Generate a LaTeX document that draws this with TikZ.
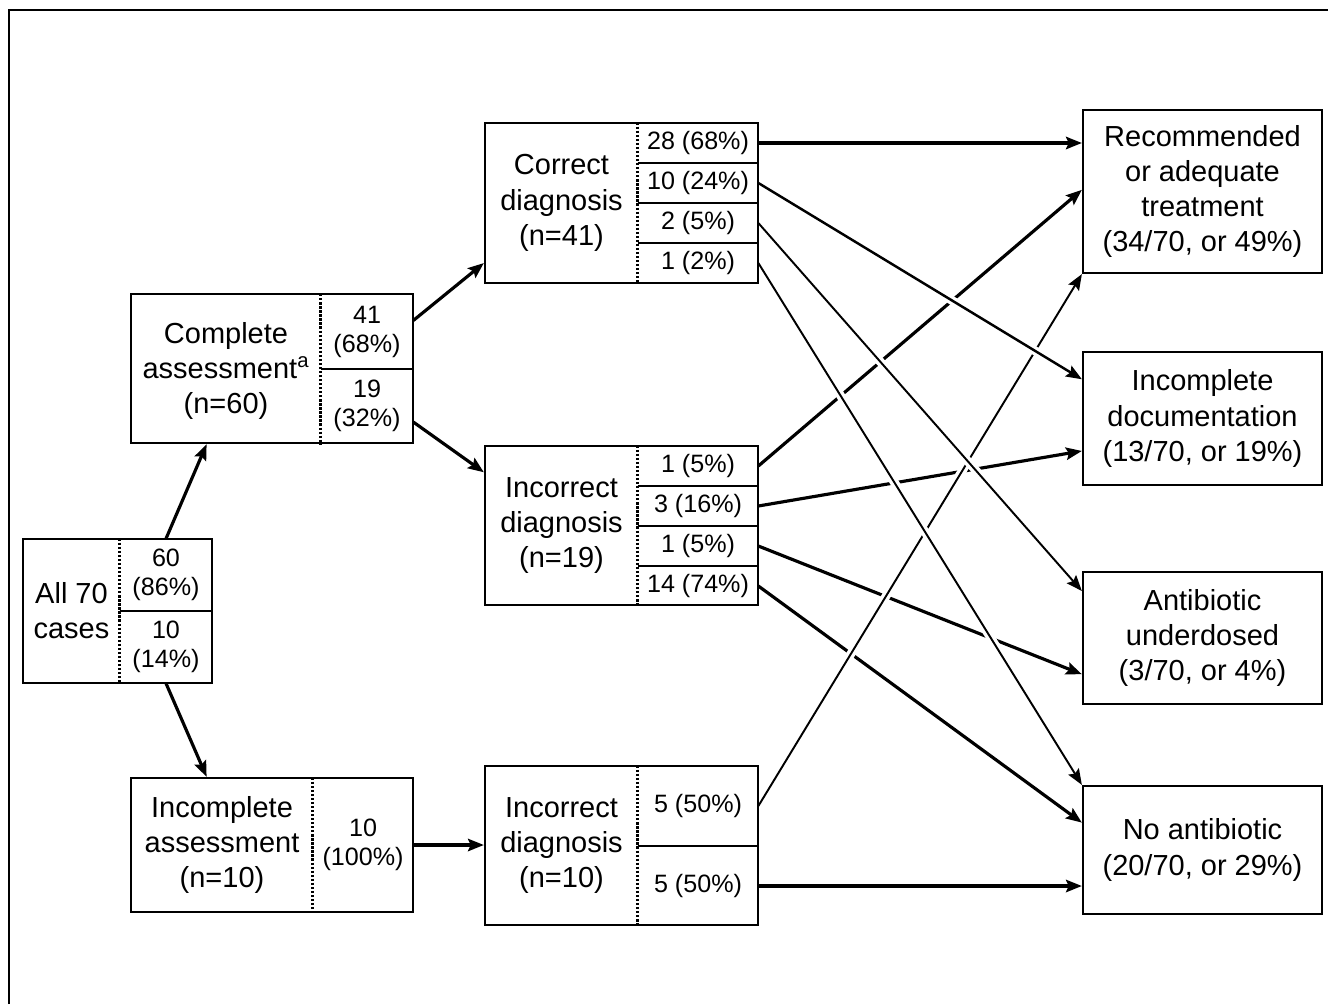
\documentclass[tikz,border=0pt]{standalone}
\usepackage{fontspec}
\setmainfont{Liberation Sans}
\usetikzlibrary{arrows.meta,calc}

\begin{document}
\begin{tikzpicture}[x=0.02cm,y=-0.02cm,
  box/.style={draw,line width=1.3pt,inner sep=0pt},
  txt/.style={align=center,inner sep=0pt,font=\fontsize{16.5}{20}\selectfont},
  cell/.style={align=center,inner sep=0pt,font=\fontsize{14.3}{16.5}\selectfont},
  divider/.style={line width=1.6pt,dash pattern=on 1.3pt off 1pt},
  sep/.style={line width=1.3pt},
  arr/.style={-{Stealth[length=9pt,width=7pt,inset=1.5pt]},line width=1.8pt},
  thinarr/.style={arr,line width=1.1pt},
  halo/.style={preaction={draw=white,-,line width=5pt,shorten <=12pt,shorten >=14pt}}]
  \useasboundingbox (0,0) rectangle (1328,1004);
  \draw[line width=1.3pt] (9,1004) -- (9,10) -- (1328,10);

  \node[box,minimum width=3.78cm,minimum height=2.88cm] (all) at (117.5,611) {};
  \node[txt] (allL) at (71.5,611) {All 70\\cases};
  \node[cell,minimum width=1.84cm,minimum height=1.44cm] (a60) at (166,575) {60\\(86\%)};
  \node[cell,minimum width=1.84cm,minimum height=1.44cm] (a10) at (166,647) {10\\(14\%)};
  \draw[divider] (a60.north west) -- (a10.south west);
  \draw[sep] (a60.south west) -- (a60.south east);

  \node[box,minimum width=5.64cm,minimum height=2.98cm] (cmp) at (272,368.5) {};
  \node[txt] (cmpL) at (226,371) {Complete\\assessment\textsuperscript{a}\\(n=60)};
  \node[cell,minimum width=1.84cm,minimum height=1.49cm] (c41) at (367,331.75) {41\\(68\%)};
  \node[cell,minimum width=1.84cm,minimum height=1.49cm] (c19) at (367,406.25) {19\\(32\%)};
  \draw[divider] (c41.north west) -- (c19.south west);
  \draw[sep] (c41.south west) -- (c41.south east);

  \node[box,minimum width=5.64cm,minimum height=2.68cm] (inc) at (272,845) {};
  \node[txt] (incL) at (222,845) {Incomplete\\assessment\\(n=10)};
  \node[cell,minimum width=2cm,minimum height=2.68cm] (i10) at (363,845) {10\\(100\%)};
  \draw[divider] (i10.north west) -- (i10.south west);

  \node[box,minimum width=5.46cm,minimum height=3.2cm] (cor) at (621.5,203) {};
  \node[txt] (corL) at (561.5,203) {Correct\\diagnosis\\(n=41)};
  \foreach \t [count=\i] in {28 (68\%),10 (24\%),2 (5\%),1 (2\%)}
    \node[cell,minimum width=2.4cm,minimum height=0.8cm] (r\i) at (698,103+40*\i) {\t};
  \draw[divider] (r1.north west) -- (r4.south west);
  \foreach \i in {1,2,3}
    \draw[sep] (r\i.south west) -- (r\i.south east);

  \node[box,minimum width=5.46cm,minimum height=3.18cm] (ic19) at (621.5,525.5) {};
  \node[txt] (ic19L) at (561.5,525.5) {Incorrect\\diagnosis\\(n=19)};
  \foreach \t [count=\i] in {1 (5\%),3 (16\%),1 (5\%),14 (74\%)}
    \node[cell,minimum width=2.4cm,minimum height=0.8cm] (s\i) at (698,426+40*\i) {\t};
  \draw[divider] (s1.north west) -- (s4.south west);
  \foreach \i in {1,2,3}
    \draw[sep] (s\i.south west) -- (s\i.south east);

  \node[box,minimum width=5.46cm,minimum height=3.18cm] (ic10) at (621.5,845.5) {};
  \node[txt] (ic10L) at (561.5,845.5) {Incorrect\\diagnosis\\(n=10)};
  \node[cell,minimum width=2.4cm,minimum height=1.6cm] (t1) at (698,806) {5 (50\%)};
  \node[cell,minimum width=2.4cm,minimum height=1.6cm] (t2) at (698,886) {5 (50\%)};
  \draw[divider] (t1.north west) -- (t2.south west);
  \draw[sep] (t1.south west) -- (t1.south east);

  \node[box,txt,minimum width=4.78cm,minimum height=3.26cm] (rec) at (1202.5,191.5) {Recommended\\or adequate\\treatment\\(34/70, or 49\%)};
  \node[box,txt,minimum width=4.78cm,minimum height=2.66cm] (doc) at (1202.5,418.5) {Incomplete\\documentation\\(13/70, or 19\%)};
  \node[box,txt,minimum width=4.78cm,minimum height=2.64cm] (und) at (1202.5,638) {Antibiotic\\underdosed\\(3/70, or 4\%)};
  \node[box,txt,minimum width=4.78cm,minimum height=2.56cm] (nab) at (1202.5,850) {No antibiotic\\(20/70, or 29\%)};

  \draw[arr] (a60.north) -- ($(cmp.south west)!.27!(cmp.south east)$);
  \draw[arr] (a10.south) -- ($(inc.north west)!.27!(inc.north east)$);
  \draw[arr] ($(c41.north east)!.35!(c41.south east)$) -- ($(cor.north west)!.87!(cor.south west)$);
  \draw[arr] ($(c19.north east)!.71!(c19.south east)$) -- ($(ic19.north west)!.17!(ic19.south west)$);
  \draw[arr] (i10.east) -- (ic10.west |- i10.east);

  \draw[arr] (r1.east) -- (rec.west |- r1.east);
  \draw[arr] (s1.east) -- ($(rec.north west)!.49!(rec.south west)$);
  \draw[arr] (s2.east) -- ($(doc.north west)!.74!(doc.south west)$);
  \draw[arr] (s3.east) -- ($(und.north west)!.77!(und.south west)$);
  \draw[arr] (s4.east) -- ($(nab.north west)!.29!(nab.south west)$);
  \draw[arr] (t2.east) -- (nab.west |- t2.east);
  \draw[thinarr,halo] (t1.east) -- (rec.south west);
  \draw[thinarr,halo] (r4.east) -- (nab.north west);
  \draw[thinarr,halo] (r3.east) -- ($(und.north west)!.15!(und.south west)$);
  \draw[arr,line width=1.4pt,halo] (r2.east) -- ($(doc.north west)!.21!(doc.south west)$);
\end{tikzpicture}
\end{document}
